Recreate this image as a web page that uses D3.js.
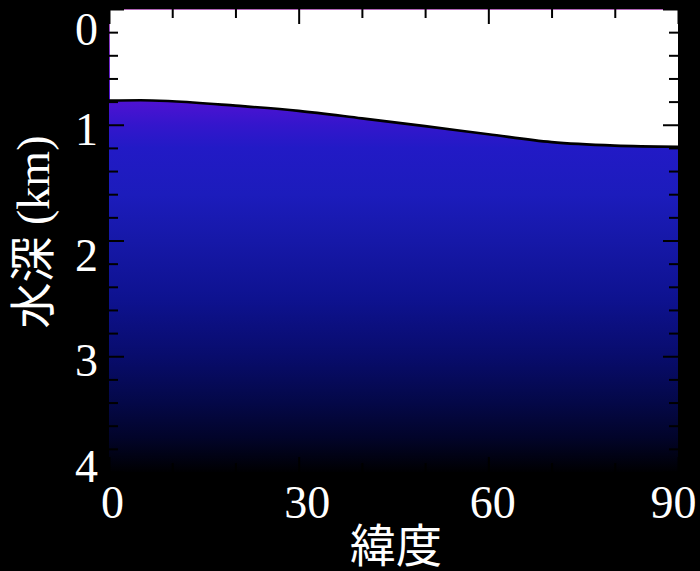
<!DOCTYPE html>
<html>
<head>
<meta charset="utf-8">
<script src="https://cdn.jsdelivr.net/npm/d3@7/dist/d3.min.js"></script>
<style>
  html, body { margin: 0; padding: 0; background: #000; }
  svg { display: block; }
</style>
</head>
<body>
<svg id="chart" width="700" height="571"></svg>
<script>
// ---- data ----
const latitudes = [0, 5, 10, 20, 30, 40, 50, 60, 70, 80, 90];
const depthKm   = [0.792, 0.788, 0.797, 0.835, 0.880, 0.945, 1.012, 1.082, 1.150, 1.180, 1.190];
const xTickValues = [0, 30, 60, 90];
const xTickLabels = ["0", "30", "60", "90"];
const yTickValues = [0, 1, 2, 3, 4];
const yTickLabels = ["0", "1", "2", "3", "4"];
const xMinorTicks = [10, 20, 40, 50, 70, 80];
const yMinorTicks = [0.2, 0.4, 0.6, 0.8, 1.2, 1.4, 1.6, 1.8, 2.2, 2.4, 2.6, 2.8, 3.2, 3.4, 3.6, 3.8];
const xTitle = "緯度";
const yTitle = "水深 (km)";
// colour ramp by depth (km)
const rampDepth  = [0, 0.4, 0.8, 1.0, 1.2, 1.6, 2.0, 2.5, 3.0, 3.4, 3.7, 4.0];
const rampColour = ["#b064b4", "#7a2ccc", "#4e12d2", "#3416cc", "#221ac6", "#1c1cbc",
                    "#1618a8", "#0e1290", "#080c6c", "#040848", "#02042a", "#000002"];

// ---- layout ----
const svg = d3.select("#chart");
const L = 109, R = 678, T = 9, B = 472;
const x = d3.scaleLinear().domain([0, 90]).range([L, R]);
const y = d3.scaleLinear().domain([0, 4]).range([T, B]);
const pts = latitudes.map((d, i) => [d, depthKm[i]]);
const serif = "'Liberation Serif', 'Times New Roman', 'Noto Sans CJK JP', serif";

const defs = svg.append("defs");
const grad = defs.append("linearGradient")
  .attr("id", "depthGrad")
  .attr("gradientUnits", "userSpaceOnUse")
  .attr("x1", 0).attr("x2", 0)
  .attr("y1", y(0)).attr("y2", y(4));
grad.selectAll("stop").data(rampDepth).join("stop")
  .attr("offset", d => (y(d) - y(0)) / (y(4) - y(0)))
  .attr("stop-color", (d, i) => rampColour[i]);

defs.append("clipPath").attr("id", "plotClip")
  .append("rect").attr("x", L + 1).attr("y", T + 1)
  .attr("width", R - L - 1).attr("height", B - T - 1);

// gradient background (the whole plot)
svg.append("rect")
  .attr("x", L).attr("y", T)
  .attr("width", R - L).attr("height", B - T)
  .attr("fill", "url(#depthGrad)");

// white region above seabed/curve
const area = d3.area()
  .x(d => x(d[0]))
  .y0(T)
  .y1(d => y(d[1]))
  .curve(d3.curveMonotoneX);
svg.append("path")
  .datum(pts)
  .attr("clip-path", "url(#plotClip)")
  .attr("d", area)
  .attr("fill", "#ffffff");

// curve
const line = d3.line()
  .x(d => x(d[0]))
  .y(d => y(d[1]))
  .curve(d3.curveMonotoneX);
svg.append("path")
  .datum(pts)
  .attr("d", line)
  .attr("fill", "none")
  .attr("stroke", "#000")
  .attr("stroke-width", 2.6);

// ---- axes (ticks inward) ----
function styleTicks(g) {
  g.select(".domain").remove();
  g.selectAll(".tick line").attr("stroke", "#000").attr("stroke-width", 2);
}
const MAJ = 15, MIN = 9;
// left
svg.append("g").attr("transform", `translate(${L},0)`)
  .call(d3.axisLeft(y).tickValues(yTickValues).tickSize(-MAJ).tickFormat(""))
  .call(styleTicks);
svg.append("g").attr("transform", `translate(${L},0)`)
  .call(d3.axisLeft(y).tickValues(yMinorTicks).tickSize(-MIN).tickFormat(""))
  .call(styleTicks);
// right
svg.append("g").attr("transform", `translate(${R},0)`)
  .call(d3.axisRight(y).tickValues(yTickValues).tickSize(-MAJ).tickFormat(""))
  .call(styleTicks);
svg.append("g").attr("transform", `translate(${R},0)`)
  .call(d3.axisRight(y).tickValues(yMinorTicks).tickSize(-MIN).tickFormat(""))
  .call(styleTicks);
// top
svg.append("g").attr("transform", `translate(0,${T})`)
  .call(d3.axisTop(x).tickValues(xTickValues).tickSize(-MAJ).tickFormat(""))
  .call(styleTicks);
svg.append("g").attr("transform", `translate(0,${T})`)
  .call(d3.axisTop(x).tickValues(xMinorTicks).tickSize(-MIN).tickFormat(""))
  .call(styleTicks);
// bottom
svg.append("g").attr("transform", `translate(0,${B})`)
  .call(d3.axisBottom(x).tickValues(xTickValues).tickSize(-MAJ).tickFormat(""))
  .call(styleTicks);
svg.append("g").attr("transform", `translate(0,${B})`)
  .call(d3.axisBottom(x).tickValues(xMinorTicks).tickSize(-MIN).tickFormat(""))
  .call(styleTicks);

// tick labels via axes
const yLabelNudge = [20, 4, 14, 4, -6];
const yAx = svg.append("g").attr("transform", `translate(${L},0)`)
  .call(d3.axisLeft(y).tickValues(yTickValues).tickSize(0).tickPadding(11)
        .tickFormat((d, i) => yTickLabels[i]));
yAx.select(".domain").remove();
yAx.selectAll(".tick text")
  .attr("fill", "#fff")
  .attr("font-family", serif)
  .attr("font-size", 46)
  .attr("dy", null)
  .attr("dominant-baseline", "central")
  .attr("y", (d, i) => yLabelNudge[i]);

const xLabelNudge = [3, 8, 4, -5];
const xAx = svg.append("g").attr("transform", `translate(0,${B})`)
  .call(d3.axisBottom(x).tickValues(xTickValues).tickSize(0)
        .tickFormat((d, i) => xTickLabels[i]));
xAx.select(".domain").remove();
xAx.selectAll(".tick text")
  .attr("fill", "#fff")
  .attr("font-family", serif)
  .attr("font-size", 46)
  .attr("dy", null)
  .attr("y", 46)
  .attr("x", (d, i) => xLabelNudge[i]);

// titles
svg.append("text")
  .attr("x", 396).attr("y", 546)
  .attr("text-anchor", "middle")
  .attr("dominant-baseline", "central")
  .attr("fill", "#fff")
  .attr("font-family", serif)
  .attr("font-size", 46)
  .text(xTitle);

svg.append("text")
  .attr("transform", "translate(33,232) rotate(-90)")
  .attr("text-anchor", "middle")
  .attr("dominant-baseline", "central")
  .attr("fill", "#fff")
  .attr("font-family", serif)
  .attr("font-size", 46)
  .text(yTitle);
</script>
</body>
</html>
